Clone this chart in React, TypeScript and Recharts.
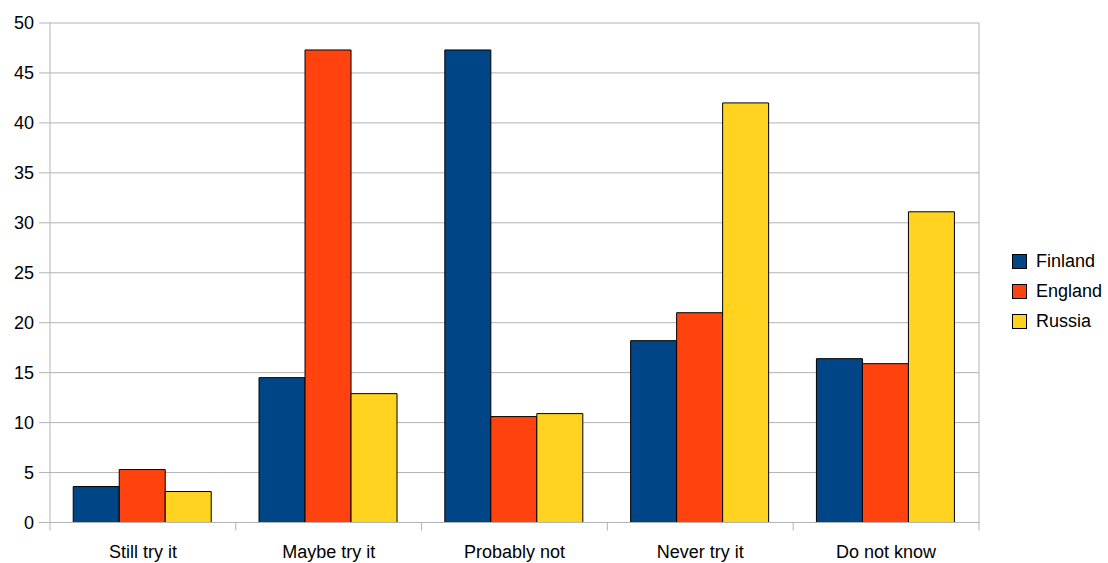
import React from "react";
import {
  BarChart,
  Bar,
  XAxis,
  YAxis,
  CartesianGrid,
} from "recharts";

const categories = ["Still try it", "Maybe try it", "Probably not", "Never try it", "Do not know"];
const finland = [3.6, 14.5, 47.3, 18.2, 16.4];
const england = [5.3, 47.3, 10.6, 21.0, 15.9];
const russia = [3.1, 12.9, 10.9, 42.0, 31.1];
const yTicks = [0, 5, 10, 15, 20, 25, 30, 35, 40, 45, 50];

const series = [
  { key: "Finland", values: finland, color: "#004586" },
  { key: "England", values: england, color: "#ff420e" },
  { key: "Russia", values: russia, color: "#ffd320" },
];

const data = categories.map((name, i) => {
  const row: Record<string, string | number> = { name };
  series.forEach((s) => (row[s.key] = s.values[i]));
  return row;
});

const W = 1108;
const H = 563;
const MARGIN = { top: 23, right: 129, bottom: 0, left: 0 };
const Y_AXIS_W = 50;
const X_AXIS_H = 40.5;
const AXIS_Y = H - MARGIN.bottom - X_AXIS_H;
const PLOT_W = W - MARGIN.left - MARGIN.right - Y_AXIS_W;
const BAND = PLOT_W / categories.length;
const FONT = "'Liberation Sans', Arial, sans-serif";
const GRID = "#b3b3b3";

// category labels sit in the middle, tick marks on the band edges
function CategoryTick(props: any) {
  const { x, payload, index } = props;
  const half = BAND / 2;
  return (
    <g>
      {index === 0 && (
        <line x1={x - half} x2={x - half} y1={AXIS_Y} y2={AXIS_Y + 8} stroke={GRID} />
      )}
      <line x1={x + half} x2={x + half} y1={AXIS_Y} y2={AXIS_Y + 8} stroke={GRID} />
      <text x={x} y={AXIS_Y + 35} textAnchor="middle" fontSize={18} fill="#000" fontFamily={FONT}>
        {payload.value}
      </text>
    </g>
  );
}

export default function App() {
  return (
    <div style={{ position: "absolute", left: 0, top: 0, width: W, height: H, background: "#fff", fontFamily: FONT }}>
      <BarChart width={W} height={H} data={data} margin={MARGIN} barCategoryGap="12.5%" barGap={0}>
        <CartesianGrid
          stroke={GRID}
          vertical={true}
          verticalCoordinatesGenerator={({ offset }: any) => [offset.left + offset.width]}
        />
        <XAxis
          dataKey="name"
          height={X_AXIS_H}
          stroke={GRID}
          tickLine={false}
          interval={0}
          tick={<CategoryTick />}
        />
        <YAxis
          width={Y_AXIS_W}
          domain={[0, 50]}
          ticks={yTicks}
          stroke={GRID}
          tickSize={11}
          tickMargin={5}
          tick={{ fill: "#000", fontSize: 18, fontFamily: FONT }}
        />
        {series.map((s) => (
          <Bar key={s.key} dataKey={s.key} fill={s.color} stroke="#000" strokeWidth={1} isAnimationActive={false} />
        ))}
      </BarChart>
      <div style={{ position: "absolute", left: 1012, top: 246 }}>
        {series.map((s) => (
          <div key={s.key} style={{ display: "flex", alignItems: "center", height: 30, fontSize: 18, color: "#000" }}>
            <span
              style={{
                display: "inline-block",
                width: 13,
                height: 13,
                background: s.color,
                border: "1px solid #000",
                marginRight: 9,
              }}
            />
            {s.key}
          </div>
        ))}
      </div>
    </div>
  );
}
